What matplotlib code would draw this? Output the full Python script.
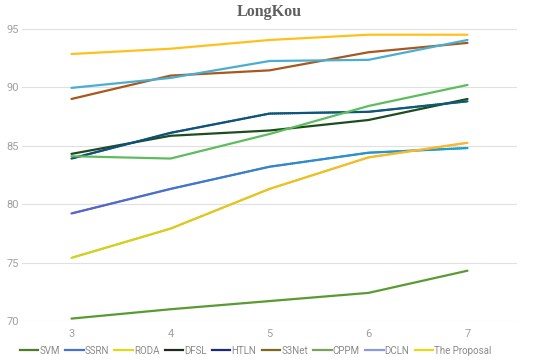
import numpy as np
import matplotlib.pyplot as plt
from matplotlib.collections import LineCollection
from matplotlib.colors import LinearSegmentedColormap
from matplotlib.lines import Line2D

samples = [3, 4, 5, 6, 7]
svm = [70.2, 71.0, 71.7, 72.4, 74.3]
ssrn = [79.2, 81.3, 83.2, 84.4, 84.8]
roda = [75.4, 77.9, 81.3, 84.0, 85.25]
dfsl = [84.3, 85.85, 86.3, 87.2, 89.0]
htln = [83.9, 86.1, 87.75, 87.9, 88.8]
s3net = [89.0, 91.0, 91.45, 93.0, 93.8]
cppm = [84.1, 83.9, 86.0, 88.4, 90.2]
dcln = [89.95, 90.8, 92.25, 92.35, 94.05]
proposal = [92.85, 93.3, 94.05, 94.5, 94.5]

names = ["SVM", "SSRN", "RODA", "DFSL", "HTLN", "S3Net", "CPPM", "DCLN", "The Proposal"]
series = [svm, ssrn, roda, dfsl, htln, s3net, cppm, dcln, proposal]
# (start colour, end colour) - same colour means plain line
colours = [("#5a9a32", "#5a9a32"), ("#5b63c9", "#16a3cc"), ("#cfd21e", "#ffb52a"),
           ("#1d4d1d", "#1d4d1d"), ("#0f4f7e", "#0f5a78"), ("#a8581c", "#a8581c"),
           ("#5cbd5c", "#5cbd5c"), ("#4aaed0", "#4aaed0"), ("#ffc01e", "#ffc01e")]
legend_cols = ["#4e7d2a", "#4a6fd8", "#e0d81a", "#1e2a1e", "#1c2a7a", "#7a6a1a",
               "#7aa35a", "#8a9ae0", "#e8d81a"]

fig = plt.figure(figsize=(5.5, 3.61), dpi=100)
ax = fig.add_axes([0.04, 0.111, 0.90, 0.809])

for vals, (c0, c1) in zip(series, colours):
    if c0 == c1:
        ax.plot(samples, vals, color=c0, lw=1.6, solid_capstyle="round")
    else:
        xs = np.linspace(samples[0], samples[-1], 200)
        ys = np.interp(xs, samples, vals)
        pts = np.array([xs, ys]).T.reshape(-1, 1, 2)
        segs = np.concatenate([pts[:-1], pts[1:]], axis=1)
        cmap = LinearSegmentedColormap.from_list("g", [c0, c1])
        lc = LineCollection(segs, cmap=cmap, lw=1.6, capstyle="round")
        lc.set_array(np.linspace(0, 1, len(segs)))
        ax.add_collection(lc)

ax.set_xlim(2.5, 7.5)
ax.set_ylim(70, 95)
ax.set_xticks(samples)
ax.set_yticks([70, 75, 80, 85, 90, 95])
ax.grid(axis="y", color="#e0e0e0", lw=0.8)
ax.set_axisbelow(True)
for s in ax.spines.values():
    s.set_visible(False)
ax.tick_params(length=0, labelsize=8, labelcolor="#a0a0a0", pad=6)
for lab in ax.get_xticklabels() + ax.get_yticklabels():
    lab.set_fontfamily("Roboto")
ax.tick_params(axis="y", pad=2)

ax.set_title("LongKou", fontfamily="Liberation Serif", fontweight="bold",
             fontsize=11.5, color="#5f5f5f", pad=9)

handles = [Line2D([], [], color=c, lw=1.6) for c in legend_cols]
fig.legend(handles, names, loc="lower center", bbox_to_anchor=(0.465, -0.01), ncol=9,
           frameon=False, handlelength=1.9, handletextpad=0.1, columnspacing=0.55,
           prop={"family": "Roboto", "size": 7}, labelcolor="#8a8a8a")

fig.savefig("out.png", dpi=100)
